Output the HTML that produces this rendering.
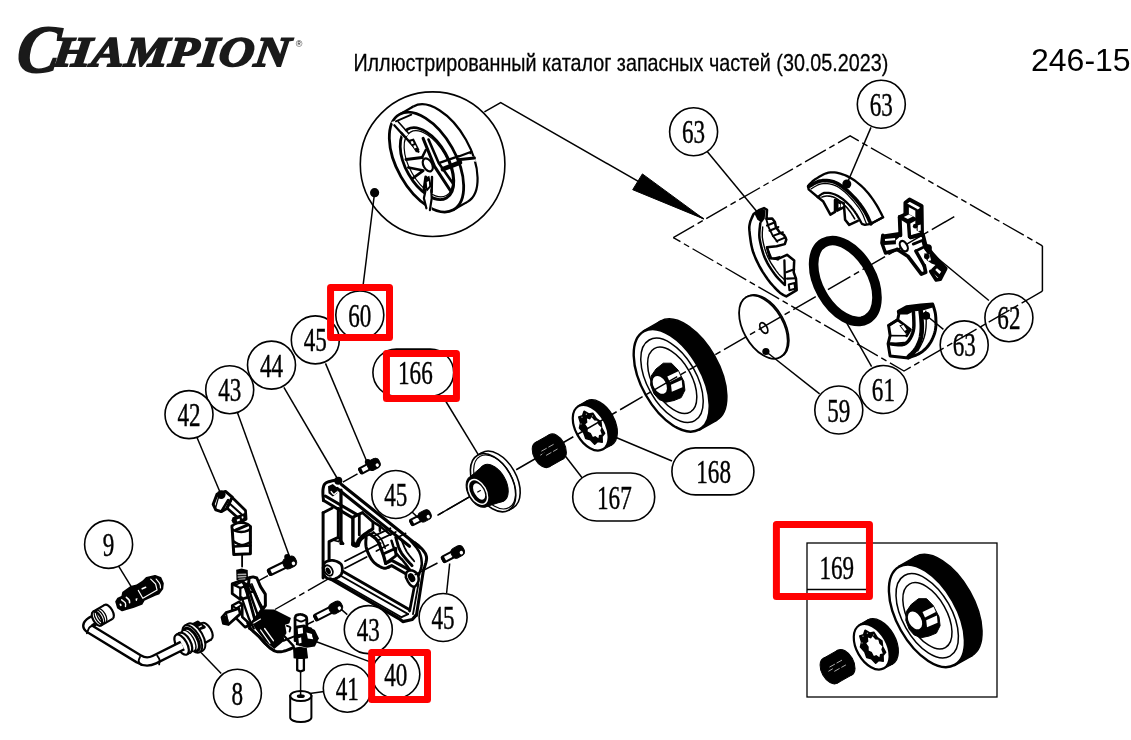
<!DOCTYPE html>
<html><head><meta charset="utf-8">
<style>
html,body{margin:0;padding:0;background:#fff;}
body{width:1131px;height:740px;overflow:hidden;position:relative;font-family:"Liberation Sans",sans-serif;}
svg{position:absolute;left:0;top:0;}
.n{font-family:"Liberation Serif",serif;font-size:28px;fill:#000;text-anchor:middle;stroke:#000;stroke-width:0.45px;}
.ln{stroke:#000;stroke-width:1.5;fill:none;}
.b{stroke:#000;stroke-width:1.6;fill:#fff;}
.r{stroke:#ff0000;stroke-width:7;fill:none;stroke-linejoin:round;}
</style></head><body>
<svg width="1131" height="740" viewBox="0 0 1131 740">
<g style="opacity:0.999"><!-- HEADER -->
<g>
<text x="0" y="0" transform="translate(15.5,72.3) scale(1.03,1.09) skewX(-6)" font-family="Liberation Serif" font-weight="bold" font-style="italic" font-size="62" fill="#1a1a1a" stroke="#1a1a1a" stroke-width="1.6">C</text>
<text x="0" y="0" transform="translate(52.0,65.8) scale(1.162,1) skewX(-6)" font-family="Liberation Serif" font-weight="bold" font-style="italic" font-size="42" fill="#1a1a1a" stroke="#1a1a1a" stroke-width="1.8" letter-spacing="0.5">HAMPION</text>
<text x="295.8" y="47.2" font-family="Liberation Sans" font-size="9" fill="#1a1a1a">®</text>
<text transform="translate(353.4,70.7) scale(0.859,1)" font-family="Liberation Sans" font-size="23" fill="#000" stroke="#000" stroke-width="0.3">Иллюстрированный каталог запасных частей (30.05.2023)</text>
<text x="1031" y="71.2" font-family="Liberation Sans" font-size="32" fill="#000">246-15</text>
</g>
<!--BODY-->
<path d="M673.3,237.6 L850.1,135.9 L1042.4,245.8" class="ln" style="stroke-dasharray:24 4 6 4;stroke-width:1.4"/>
<line x1="1042.4" y1="245.8" x2="1042.4" y2="291.2" class="ln" style=""/>
<path d="M1042.4,291.2 L904.0,371.0 L673.3,237.6" class="ln" style="stroke-dasharray:24 4 6 4;stroke-width:1.4"/>
<circle cx="432.6" cy="164.2" r="72.3" class="b" style="stroke-width:1.6"/>
<path d="M484.4,111.9 L500.7,102.6 L703.7,218.9" class="ln" style=""/>
<path d="M703.7,218.9 L642.4,173.9 L632.7,189.7 Z" class="" style="fill:#000;stroke:#000;stroke-width:1"/>
<circle cx="374.6" cy="192.7" r="4.6" fill="#000"/>
<line x1="374.6" y1="192.7" x2="362.5" y2="290" class="ln" style=""/>
<ellipse transform="translate(845.3,281.0) rotate(-29.5)" rx="26.6" ry="43.9" class="" style="fill:none;stroke:#000;stroke-width:9.6" />
<ellipse transform="translate(764.6,326.4) rotate(-29.5)" rx="20.0" ry="34.5" class="" style="fill:#fff;stroke:#000;stroke-width:1.6" />
<ellipse transform="translate(763.4,327.1) rotate(-29.5)" rx="20.0" ry="34.5" class="" style="fill:#fff;stroke:#000;stroke-width:1.8" />
<ellipse transform="translate(763.8,328.0) rotate(-29.5)" rx="3.2" ry="5.8" class="" style="fill:none;stroke:#000;stroke-width:1.8" />
<circle cx="765.9" cy="351.5" r="3.6" fill="#000"/>
<line x1="765.9" y1="351.5" x2="819.6" y2="393.8" class="ln" style=""/>
<line x1="846.8" y1="323.2" x2="871.6" y2="366.6" class="ln" style=""/>
<ellipse transform="translate(688.4,370.8) rotate(-29.5)" rx="30.2" ry="57.0" class="" style="fill:#000;stroke:#000;stroke-width:1.5" />
<path d="M699.8,429.9 L716.5,420.5 L660.3,321.2 L643.6,330.7 Z" class="" style="fill:#000;stroke:#000;stroke-width:1.5"/>
<ellipse transform="translate(671.7,380.3) rotate(-29.5)" rx="29.8" ry="56.4" class="" style="fill:#fff;stroke:#000;stroke-width:2.40" />
<ellipse transform="translate(672.0,380.3) rotate(-29.5)" rx="24.5" ry="46.3" class="" style="fill:#fff;stroke:#000;stroke-width:1.50;fill:none" />
<ellipse transform="translate(672.2,380.3) rotate(-29.5)" rx="19.3" ry="36.5" class="" style="fill:#fff;stroke:#000;stroke-width:1.50;fill:none" />
<path d="M651.2,376.0 L656.0,369.0 L663.3,363.2 L671.4,363.2 L678.0,370.0 L683.8,381.3 L684.9,390.2 L681.2,397.6 L674.0,400.5 L666.0,402.2 L659.0,399.5 L654.0,393.8 L650.6,384.9 Z" class="" style="fill:#000;stroke:#000;stroke-width:1;stroke-linejoin:round"/>
<ellipse transform="translate(659.8,384.9) rotate(-29.5)" rx="6.2" ry="9.6" class="" style="fill:#fff;stroke:none" />
<path d="M667.3,376.6 L678.3,371.2 L680.6,376.4 L669.8,382.0 Z" class="" style="fill:#fff;stroke:none"/>
<path d="M671.0,384.8 L681.7,379.9 L682.4,387.2 L671.8,391.8 Z" class="" style="fill:#fff;stroke:none"/>
<ellipse transform="translate(599.1,423.0) rotate(-29.5)" rx="15.4" ry="25.2" class="" style="fill:#000;stroke:#000;stroke-width:1.2" />
<path d="M603.1,449.6 L611.5,444.9 L586.6,401.0 L578.3,405.8 Z" class="" style="fill:#000;stroke:#000;stroke-width:1.2"/>
<ellipse transform="translate(590.7,427.7) rotate(-29.5)" rx="15.1" ry="24.8" class="" style="fill:#fff;stroke:#000;stroke-width:2.20" />
<path d="M602.2,442.1 L602.0,436.6 L604.6,433.3 L601.5,427.6 L600.9,421.8 L596.3,418.7 L592.8,413.2 L588.8,414.0 L584.1,411.3 L582.6,415.7 L578.8,417.1 L580.6,423.1 L579.5,427.9 L583.7,432.6 L585.8,438.6 L590.4,439.8 L594.7,444.2 L597.7,441.4 Z" class="" style="fill:#000;stroke:#000;stroke-width:1.6;stroke-linejoin:round"/>
<path d="M601.8,434.5 L600.3,430.5 L601.4,427.6 L598.4,424.8 L597.3,420.8 L594.4,420.4 L591.6,417.2 L590.0,419.5 L586.9,418.5 L587.4,422.4 L585.3,424.2 L587.7,427.8 L587.7,431.5 L590.8,433.1 L592.9,437.0 L595.3,435.9 L598.4,438.2 L599.0,434.9 Z" class="" style="fill:#fff;stroke:none"/>
<circle cx="592.5" cy="415.9" r="0.70" fill="#999"/>
<circle cx="586.4" cy="414.3" r="0.70" fill="#999"/>
<circle cx="582.0" cy="417.3" r="0.70" fill="#999"/>
<circle cx="581.0" cy="424.0" r="0.70" fill="#999"/>
<line x1="616.1" y1="437.5" x2="672" y2="461" class="ln" style=""/>
<ellipse transform="translate(556.3,446.8) rotate(-29.5)" rx="8.5" ry="14.0" class="" style="fill:#000;stroke:#000;stroke-width:1" />
<path d="M549.2,466.9 L563.2,459.0 L549.4,434.6 L535.4,442.5 Z" class="" style="fill:#000;stroke:#000;stroke-width:1"/>
<ellipse transform="translate(542.3,454.7) rotate(-29.5)" rx="8.5" ry="14.0" class="" style="fill:#000;stroke:#000;stroke-width:1" />
<line x1="541.4" y1="451.2" x2="546.7" y2="448.2" class="" style="stroke:#bbb;stroke-width:0.90"/>
<line x1="548.4" y1="447.2" x2="553.6" y2="444.3" class="" style="stroke:#bbb;stroke-width:0.90"/>
<line x1="546.1" y1="455.4" x2="551.4" y2="452.4" class="" style="stroke:#bbb;stroke-width:0.90"/>
<line x1="553.1" y1="451.5" x2="557.5" y2="449.0" class="" style="stroke:#bbb;stroke-width:0.90"/>
<line x1="540.3" y1="455.2" x2="544.7" y2="452.8" class="" style="stroke:#bbb;stroke-width:0.90"/>
<line x1="565.1" y1="455.7" x2="590" y2="488" class="ln" style=""/>
<line x1="954.3" y1="216.6" x2="437.4" y2="515.3" class="ln" style="stroke-dasharray:26 4 6 4;stroke-width:1.5"/>
<line x1="437.4" y1="515.3" x2="472" y2="495.3" class="ln" style="stroke-width:1.5"/>
<ellipse transform="translate(497.5,480.2) rotate(-29.5)" rx="19.0" ry="31.6" class="" style="fill:#fff;stroke:#000;stroke-width:1.6" />
<path d="M508.7,510.2 L513.0,507.7 L481.9,452.7 L477.5,455.2 Z" class="" style="fill:#fff;stroke:none"/>
<line x1="508.7" y1="510.2" x2="513.0" y2="507.7" class="" style="stroke:#000;stroke-width:1.6"/>
<line x1="477.5" y1="455.2" x2="481.9" y2="452.7" class="" style="stroke:#000;stroke-width:1.6"/>
<ellipse transform="translate(493.1,482.7) rotate(-29.5)" rx="19.0" ry="31.6" class="" style="fill:#fff;stroke:#000;stroke-width:1.6" />
<ellipse transform="translate(494.6,481.9) rotate(-29.5)" rx="17.4" ry="29.4" class="" style="fill:none;stroke:#000;stroke-width:1.1" />
<ellipse transform="translate(493.6,483.2) rotate(-29.5)" rx="12.2" ry="20.5" class="" style="fill:#000;stroke:#000" />
<path d="M486.7,506.5 L503.7,501.0 L483.5,465.4 L469.9,476.9 Z" class="" style="fill:#000;stroke:#000;stroke-width:1"/>
<ellipse transform="translate(478.3,491.7) rotate(-29.5)" rx="10.2" ry="17.0" class="" style="fill:#000;stroke:#000;stroke-width:1" />
<ellipse transform="translate(478.0,491.9) rotate(-29.5)" rx="8.0" ry="13.4" class="" style="fill:none;stroke:#fff;stroke-width:1.5" />
<ellipse transform="translate(479.1,491.5) rotate(-29.5)" rx="4.8" ry="9.0" class="" style="fill:#fff;stroke:none" />
<line x1="477.3" y1="492.3" x2="480.8" y2="490.3" class="" style="stroke:#000;stroke-width:1.2"/>
<ellipse transform="translate(943.6,606.3) rotate(-29.5)" rx="30.2" ry="57.0" class="" style="fill:#000;stroke:#000;stroke-width:1.5" />
<path d="M955.0,665.4 L971.7,656.0 L915.5,556.7 L898.8,566.2 Z" class="" style="fill:#000;stroke:#000;stroke-width:1.5"/>
<ellipse transform="translate(926.9,615.8) rotate(-29.5)" rx="29.8" ry="56.4" class="" style="fill:#fff;stroke:#000;stroke-width:2.40" />
<ellipse transform="translate(927.2,615.8) rotate(-29.5)" rx="24.5" ry="46.3" class="" style="fill:#fff;stroke:#000;stroke-width:1.50;fill:none" />
<ellipse transform="translate(927.4,615.8) rotate(-29.5)" rx="19.3" ry="36.5" class="" style="fill:#fff;stroke:#000;stroke-width:1.50;fill:none" />
<path d="M906.4,611.5 L911.2,604.5 L918.5,598.7 L926.6,598.7 L933.2,605.5 L939.0,616.8 L940.1,625.7 L936.4,633.1 L929.2,636.0 L921.2,637.7 L914.2,635.0 L909.2,629.3 L905.8,620.4 Z" class="" style="fill:#000;stroke:#000;stroke-width:1;stroke-linejoin:round"/>
<ellipse transform="translate(915.0,620.4) rotate(-29.5)" rx="6.2" ry="9.6" class="" style="fill:#fff;stroke:none" />
<path d="M922.5,612.1 L933.5,606.7 L935.8,611.9 L925.0,617.5 Z" class="" style="fill:#fff;stroke:none"/>
<path d="M926.2,620.3 L936.9,615.4 L937.6,622.7 L927.0,627.3 Z" class="" style="fill:#fff;stroke:none"/>
<ellipse transform="translate(880.1,642.0) rotate(-29.5)" rx="15.4" ry="25.2" class="" style="fill:#000;stroke:#000;stroke-width:1.2" />
<path d="M884.1,668.6 L892.5,663.9 L867.6,620.0 L859.3,624.8 Z" class="" style="fill:#000;stroke:#000;stroke-width:1.2"/>
<ellipse transform="translate(871.7,646.7) rotate(-29.5)" rx="15.1" ry="24.8" class="" style="fill:#fff;stroke:#000;stroke-width:2.20" />
<path d="M883.2,661.1 L883.0,655.6 L885.6,652.3 L882.5,646.6 L881.9,640.8 L877.3,637.7 L873.8,632.2 L869.8,633.0 L865.1,630.3 L863.6,634.7 L859.8,636.1 L861.6,642.1 L860.5,646.9 L864.7,651.6 L866.8,657.6 L871.4,658.8 L875.7,663.2 L878.7,660.4 Z" class="" style="fill:#000;stroke:#000;stroke-width:1.6;stroke-linejoin:round"/>
<path d="M882.8,653.5 L881.3,649.5 L882.4,646.6 L879.4,643.8 L878.3,639.8 L875.4,639.4 L872.6,636.2 L871.0,638.5 L867.9,637.5 L868.4,641.4 L866.3,643.2 L868.7,646.8 L868.7,650.5 L871.8,652.1 L873.9,656.0 L876.3,654.9 L879.4,657.2 L880.0,653.9 Z" class="" style="fill:#fff;stroke:none"/>
<circle cx="873.5" cy="634.9" r="0.70" fill="#999"/>
<circle cx="867.4" cy="633.3" r="0.70" fill="#999"/>
<circle cx="863.0" cy="636.3" r="0.70" fill="#999"/>
<circle cx="862.0" cy="643.0" r="0.70" fill="#999"/>
<ellipse transform="translate(844.7,662.6) rotate(-29.5)" rx="8.7" ry="14.3" class="" style="fill:#000;stroke:#000;stroke-width:1" />
<path d="M837.4,683.1 L851.7,675.0 L837.7,650.2 L823.4,658.3 Z" class="" style="fill:#000;stroke:#000;stroke-width:1"/>
<ellipse transform="translate(830.4,670.7) rotate(-29.5)" rx="8.7" ry="14.3" class="" style="fill:#000;stroke:#000;stroke-width:1" />
<line x1="829.5" y1="667.1" x2="834.9" y2="664.1" class="" style="stroke:#bbb;stroke-width:0.92"/>
<line x1="836.6" y1="663.1" x2="842.0" y2="660.1" class="" style="stroke:#bbb;stroke-width:0.92"/>
<line x1="834.3" y1="671.4" x2="839.6" y2="668.4" class="" style="stroke:#bbb;stroke-width:0.92"/>
<line x1="841.4" y1="667.4" x2="845.9" y2="664.9" class="" style="stroke:#bbb;stroke-width:0.92"/>
<line x1="828.4" y1="671.3" x2="832.8" y2="668.7" class="" style="stroke:#bbb;stroke-width:0.92"/>
<ellipse transform="translate(440.4,154.2) rotate(-29.5)" rx="29.4" ry="54.8" class="" style="fill:#fff;stroke:#000;stroke-width:2.2" />
<path d="M453.5,209.8 L467.4,201.9 L413.4,106.5 L399.5,114.4 Z" class="" style="fill:#fff;stroke:none"/>
<line x1="453.5" y1="209.8" x2="467.4" y2="201.9" class="" style="stroke:#000;stroke-width:2.2"/>
<line x1="399.5" y1="114.4" x2="413.4" y2="106.5" class="" style="stroke:#000;stroke-width:2.2"/>
<ellipse transform="translate(426.5,162.1) rotate(-29.5)" rx="29.4" ry="54.8" class="" style="fill:#fff;stroke:#000;stroke-width:2.8" />
<ellipse transform="translate(427.0,163.6) rotate(-29.5)" rx="21.2" ry="39.5" class="" style="fill:#fff;stroke:#000;stroke-width:2.8" />
<ellipse transform="translate(428.4,163.8) rotate(-29.5)" rx="18.8" ry="36.4" class="" style="fill:none;stroke:#000;stroke-width:1.2" />
<path d="M391.2,122.1 L396.7,120.6 L408.3,134.5 L403.7,138.4 Z" class="" style="fill:#fff;stroke:none"/>
<path d="M394.3,125.2 L404.9,136.9" class="" style="fill:none;stroke:#000;stroke-width:2.2;stroke-linecap:round;stroke-linejoin:round"/>
<path d="M398.2,121.8 L408.3,133.0" class="" style="fill:none;stroke:#000;stroke-width:1.6;stroke-linecap:round;stroke-linejoin:round"/>
<path d="M395.9,121.3 L411.4,114.6" class="" style="fill:none;stroke:#000;stroke-width:1.8;stroke-linecap:round;stroke-linejoin:round"/>
<path d="M458.1,154.5 L475.2,157.1 L476.0,161.8 L459.3,159.7 Z" class="" style="fill:#fff;stroke:none"/>
<path d="M459.3,156.3 L471.3,151.7" class="" style="fill:none;stroke:#000;stroke-width:2.2;stroke-linecap:round;stroke-linejoin:round"/>
<path d="M458.1,159.7 L474.4,157.9" class="" style="fill:none;stroke:#000;stroke-width:3.0;stroke-linecap:round;stroke-linejoin:round"/>
<path d="M471.3,151.7 L470.2,153.5" class="" style="fill:none;stroke:#000;stroke-width:1.6;stroke-linecap:round;stroke-linejoin:round"/>
<path d="M424.8,189.8 L431.7,189.0 L431.7,211.4 L425.7,210.1 Z" class="" style="fill:#fff;stroke:none"/>
<path d="M425.7,189.8 L423.9,198.3 L426.4,208.3" class="" style="fill:none;stroke:#000;stroke-width:2.2;stroke-linecap:round;stroke-linejoin:round"/>
<path d="M431.3,190.2 L431.7,198.3 L429.9,210.1" class="" style="fill:none;stroke:#000;stroke-width:2.2;stroke-linecap:round;stroke-linejoin:round"/>
<path d="M423.1,138.4 L434.5,166.4 L450.3,190.5" class="" style="fill:none;stroke:#000;stroke-width:3.0;stroke-linecap:round;stroke-linejoin:round"/>
<path d="M428.5,139.5 L438.7,162.9 L453.7,184.6" class="" style="fill:none;stroke:#000;stroke-width:2.6;stroke-linecap:round;stroke-linejoin:round"/>
<path d="M406.0,159.4 L422.0,157.6" class="" style="fill:none;stroke:#000;stroke-width:3.0;stroke-linecap:round;stroke-linejoin:round"/>
<path d="M408.3,167.5 L423.3,170.6 L413.0,178.1" class="" style="fill:none;stroke:#000;stroke-width:2.6;stroke-linecap:round;stroke-linejoin:round"/>
<path d="M422.0,157.6 L425.7,150.1" class="" style="fill:none;stroke:#000;stroke-width:2.4;stroke-linecap:round;stroke-linejoin:round"/>
<path d="M439.4,162.9 L458.1,156.3" class="" style="fill:none;stroke:#000;stroke-width:2.4;stroke-linecap:round;stroke-linejoin:round"/>
<path d="M442.9,169.1 L460.0,162.5" class="" style="fill:none;stroke:#000;stroke-width:4.6;stroke-linecap:round;stroke-linejoin:round"/>
<path d="M425.7,176.9 L423.9,189.8" class="" style="fill:none;stroke:#000;stroke-width:2.8;stroke-linecap:round;stroke-linejoin:round"/>
<path d="M432.0,176.9 L431.7,192.1" class="" style="fill:none;stroke:#000;stroke-width:2.4;stroke-linecap:round;stroke-linejoin:round"/>
<path d="M418.4,151.7 L401.3,132.7" class="" style="fill:none;stroke:#000;stroke-width:2.4;stroke-linecap:round;stroke-linejoin:round"/>
<path d="M408.3,140.0 L413.8,138.4 L419.5,150.1 L416.1,152.4 Z" class="" style="fill:#000;stroke:none"/>
<path d="M410.7,141.5 L412.7,141.1 L413.9,143.6 L411.7,144.2 Z" class="" style="fill:#fff;stroke:none"/>
<path d="M413.3,145.7 L415.3,145.1 L416.7,147.8 L414.5,148.5 Z" class="" style="fill:#fff;stroke:none"/>
<path d="M424.7,178.1 L429.3,175.8 L431.7,185.9 L427.3,191.3 L424.7,187.4 Z" class="" style="fill:#000;stroke:none"/>
<path d="M426.7,182.0 L428.9,180.9 L429.2,185.9 L427.3,188.2 Z" class="" style="fill:#fff;stroke:none"/>
<ellipse transform="translate(427.8,164.9) rotate(-29.5)" rx="4.3" ry="7.0" class="" style="fill:#fff;stroke:#000;stroke-width:2.2" />
<path d="M753.6,214.0 L753.1,215.0 L752.5,216.4 L751.7,218.1 L751.0,219.9 L750.3,221.6 L749.9,223.3 L749.6,224.7 L749.4,225.9 L749.3,227.2 L749.3,228.6 L749.4,230.2 L749.6,232.2 L749.8,234.6 L750.2,237.5 L750.6,240.6 L751.1,243.9 L751.8,247.0 L752.5,250.0 L753.4,252.8 L754.5,255.6 L755.6,258.4 L756.9,261.1 L758.2,263.8 L759.5,266.4 L761.0,269.0 L762.5,271.6 L764.2,274.1 L765.8,276.6 L767.5,279.0 L769.2,281.2 L770.9,283.4 L772.8,285.5 L774.6,287.5 L776.4,289.3 L778.1,291.0 L779.6,292.4 L781.0,293.5 L782.4,294.4 L783.6,295.1 L784.7,295.6 L785.6,296.1 L786.3,296.4 L796.7,290.2 L796.0,278.6 L793.7,272.3 L794.2,260.4 L787.0,254.8 L778.1,258.9 L769.9,258.2 L767.0,247.3 L776.6,246.3 L784.8,244.1 L786.3,239.6 L784.1,235.1 L779.6,232.2 L775.9,227.0 L774.9,222.1 L772.2,218.5 L766.5,218.8 L767.0,209.9 L764.0,208.1 L759.5,209.9 Z" class="" style="fill:#fff;stroke:#000;stroke-width:2.53;stroke-linecap:round;stroke-linejoin:round"/>
<path d="M760.3,223.3 L760.1,224.8 L759.9,226.9 L759.6,229.5 L759.4,232.3 L759.3,235.2 L759.5,238.1 L760.0,241.1 L760.7,244.3 L761.5,247.7 L762.5,251.1 L763.5,254.4 L764.7,257.5 L766.1,260.4 L767.6,263.3 L769.2,266.1 L771.0,268.9 L772.7,271.4 L774.4,273.8 L776.2,276.1 L778.2,278.3 L780.2,280.4 L782.1,282.3 L783.7,283.8 L784.8,285.0" class="" style="fill:none;stroke:#000;stroke-width:2.53;stroke-linecap:round;stroke-linejoin:round"/>
<path d="M762.7,227.0 L762.6,228.3 L762.5,230.1 L762.3,232.2 L762.3,234.5 L762.3,237.1 L762.7,239.6 L763.2,242.3 L763.9,245.3 L764.7,248.4 L765.7,251.5 L766.8,254.6 L768.0,257.5 L769.4,260.2 L770.9,262.9 L772.6,265.5 L774.3,268.0 L775.9,270.3 L777.4,272.3 L778.8,274.1 L780.3,275.7 L781.7,277.1 L783.0,278.3 L784.0,279.3 L784.8,280.1" class="" style="fill:none;stroke:#000;stroke-width:1.38;stroke-linecap:round;stroke-linejoin:round"/>
<path d="M754.3,213.6 L762.5,209.1 L765.5,210.6 L764.7,218.8 L761.5,223.0 L757.3,219.5 Z" class="" style="fill:#000;stroke:none"/>
<path d="M767.0,225.5 L774.4,222.5" class="" style="fill:none;stroke:#000;stroke-width:2.07;stroke-linecap:round;stroke-linejoin:round"/>
<path d="M769.5,230.7 L778.4,227.0" class="" style="fill:none;stroke:#000;stroke-width:2.07;stroke-linecap:round;stroke-linejoin:round"/>
<path d="M772.9,235.9 L782.9,232.2" class="" style="fill:none;stroke:#000;stroke-width:2.07;stroke-linecap:round;stroke-linejoin:round"/>
<path d="M776.6,241.1 L785.6,237.4" class="" style="fill:none;stroke:#000;stroke-width:2.07;stroke-linecap:round;stroke-linejoin:round"/>
<path d="M766.2,218.8 L768.5,227.0 L772.9,235.9 L777.4,241.8" class="" style="fill:none;stroke:#000;stroke-width:1.84;stroke-linecap:round;stroke-linejoin:round"/>
<path d="M784.4,260.4 L785.0,284.2" class="" style="fill:none;stroke:#000;stroke-width:2.3;stroke-linecap:round;stroke-linejoin:round"/>
<path d="M786.3,272.3 L794.2,269.3" class="" style="fill:none;stroke:#000;stroke-width:2.07;stroke-linecap:round;stroke-linejoin:round"/>
<path d="M787.0,278.6 L796.0,278.3" class="" style="fill:none;stroke:#000;stroke-width:2.07;stroke-linecap:round;stroke-linejoin:round"/>
<path d="M788.8,284.5 L794.5,283.0 L795.2,288.7 L789.4,290.2 Z" class="" style="fill:none;stroke:#000;stroke-width:2.07;stroke-linecap:round;stroke-linejoin:round"/>
<path d="M770.7,258.2 L780.4,255.7 L778.4,260.7 Z" class="" style="fill:#000;stroke:none"/>
<path d="M767.0,247.3 L771.4,258.2" class="" style="fill:none;stroke:#000;stroke-width:1.84;stroke-linecap:round;stroke-linejoin:round"/>
<path d="M808.1,185.8 L808.8,185.1 L809.7,184.1 L810.8,183.0 L812.1,181.7 L813.6,180.4 L815.2,179.3 L817.1,178.1 L819.2,176.8 L821.5,175.5 L823.8,174.3 L826.2,173.3 L828.4,172.7 L830.5,172.3 L832.5,172.3 L834.5,172.4 L836.5,172.7 L838.5,173.2 L840.5,173.7 L842.6,174.3 L844.6,175.0 L846.6,175.9 L848.6,176.9 L850.7,178.0 L852.7,179.3 L854.8,180.6 L856.8,182.2 L858.9,183.8 L861.0,185.6 L863.0,187.5 L864.9,189.4 L866.7,191.4 L868.5,193.5 L870.2,195.7 L871.8,197.9 L873.4,200.2 L875.0,202.6 L876.6,205.1 L878.2,207.9 L879.7,210.7 L881.1,213.4 L882.2,215.6 L883.1,217.3 L870.9,223.8 L864.9,224.9 L861.8,223.8 L861.3,222.8 L860.5,221.4 L859.7,219.8 L858.7,218.0 L857.7,216.3 L856.8,214.7 L855.8,213.3 L854.9,211.9 L853.9,210.6 L852.9,209.2 L851.8,207.9 L850.7,206.6 L849.5,205.3 L848.2,204.0 L846.8,202.6 L845.4,201.3 L844.0,200.1 L842.6,199.0 L841.1,198.0 L839.6,197.0 L838.1,196.1 L836.5,195.2 L835.0,194.5 L833.4,194.0 L831.9,193.5 L830.3,193.1 L828.7,192.9 L827.2,192.8 L825.7,192.8 L824.3,192.9 L823.0,193.4 L821.7,194.1 L820.5,194.9 L819.3,195.8 L818.4,196.5 L817.7,197.0 L808.6,189.4 Z" class="" style="fill:#fff;stroke:#000;stroke-width:2.3;stroke-linecap:round;stroke-linejoin:round"/>
<path d="M808.6,186.6 L809.9,185.9 L811.6,184.9 L813.6,183.7 L815.8,182.6 L818.1,181.6 L820.3,181.0 L822.4,180.7 L824.6,180.5 L826.8,180.6 L829.1,180.8 L831.3,181.2 L833.4,181.8 L835.5,182.6 L837.6,183.7 L839.7,184.9 L841.7,186.3 L843.6,187.8 L845.6,189.4 L847.6,191.0 L849.5,192.8 L851.4,194.7 L853.3,196.7 L855.1,198.6 L856.8,200.5 L858.3,202.4 L859.8,204.2 L861.1,206.0 L862.4,207.9 L863.7,209.8 L864.9,211.7 L866.1,213.8 L867.3,216.1 L868.4,218.5 L869.4,220.7 L870.3,222.5 L870.9,223.8" class="" style="fill:none;stroke:#000;stroke-width:3.68;stroke-linecap:round;stroke-linejoin:round"/>
<path d="M811.1,188.9 L812.2,188.3 L813.7,187.3 L815.5,186.3 L817.4,185.2 L819.4,184.4 L821.3,183.8 L823.2,183.6 L825.2,183.5 L827.3,183.6 L829.4,183.9 L831.5,184.3 L833.4,184.8 L835.3,185.6 L837.1,186.4 L838.9,187.5 L840.6,188.7 L842.3,190.0 L844.1,191.4 L845.9,193.0 L847.8,194.8 L849.6,196.8 L851.4,198.8 L853.2,200.7 L854.7,202.6 L856.1,204.3 L857.4,206.0 L858.7,207.6 L859.8,209.3 L860.8,211.0 L861.8,212.7 L862.8,214.6 L863.7,216.8 L864.5,218.9 L865.3,220.9 L865.9,222.6 L866.4,223.8" class="" style="fill:none;stroke:#000;stroke-width:1.26;stroke-linecap:round;stroke-linejoin:round"/>
<path d="M819.3,198.3 L820.0,198.0 L821.1,197.6 L822.3,197.0 L823.6,196.6 L825.0,196.2 L826.4,196.0 L827.7,196.0 L829.0,196.1 L830.4,196.3 L831.8,196.6 L833.2,197.0 L834.5,197.5 L835.7,198.1 L836.9,198.9 L838.1,199.7 L839.2,200.6 L840.4,201.6 L841.6,202.6 L842.7,203.6 L844.0,204.7 L845.2,205.9 L846.4,207.1 L847.5,208.3 L848.6,209.7 L849.8,211.2 L851.0,212.9 L852.1,214.7 L853.2,216.3 L854.1,217.8 L854.7,218.8" class="" style="fill:none;stroke:#000;stroke-width:1.61;stroke-linecap:round;stroke-linejoin:round"/>
<path d="M817.7,197.0 L823.3,201.6 L830.4,214.7 L835.0,211.9 L835.0,200.0" class="" style="fill:#fff;stroke:#000;stroke-width:2.53;stroke-linecap:round;stroke-linejoin:round"/>
<path d="M837.2,200.0 L837.2,210.7 L844.1,207.1 L845.1,219.8 L849.2,224.9 L857.8,220.8" class="" style="fill:none;stroke:#000;stroke-width:2.53;stroke-linecap:round;stroke-linejoin:round"/>
<path d="M837.2,200.0 L844.1,203.1 L844.1,207.1" class="" style="fill:none;stroke:#000;stroke-width:1.84;stroke-linecap:round;stroke-linejoin:round"/>
<path d="M837.7,201.0 L841.0,202.6 L841.0,207.6 L837.7,209.7 Z" class="" style="fill:#000;stroke:none"/>
<path d="M838.5,203.6 L840.3,204.6 L840.3,206.8 L838.5,207.8 Z" class="" style="fill:#fff;stroke:none"/>
<path d="M870.9,223.8 L883.1,217.3" class="" style="fill:none;stroke:#000;stroke-width:2.3;stroke-linecap:round;stroke-linejoin:round"/>
<circle cx="846.8" cy="184.0" r="4.5" fill="#000"/>
<path d="M905.4,215.0 L905.4,202.8 L909.5,199.5 L921.6,205.9 L922.0,233.9 L910.5,237.3" class="" style="fill:#fff;stroke:#000;stroke-width:3.91;stroke-linecap:round;stroke-linejoin:round"/>
<path d="M907.6,214.3 L907.6,205.1 L916.6,210.0 L916.6,224.5" class="" style="fill:none;stroke:#000;stroke-width:2.53;stroke-linecap:round;stroke-linejoin:round"/>
<path d="M916.6,210.3 L921.6,206.9 L922.0,233.2 L916.6,230.5 Z" class="" style="fill:#000;stroke:none"/>
<path d="M917.6,225.4 L920.7,224.5 L920.8,230.5 L917.7,231.2 Z" class="" style="fill:#fff;stroke:none"/>
<path d="M899.7,217.0 L905.4,214.3 L914.6,219.1 L908.5,222.4 Z" class="" style="fill:#000;stroke:#000;stroke-width:3.68;stroke-linecap:round;stroke-linejoin:round"/>
<path d="M903.8,217.0 L908.9,214.6 L913.0,216.5 L907.8,218.9 Z" class="" style="fill:#fff;stroke:none"/>
<path d="M899.7,217.0 L900.4,235.3" class="" style="fill:none;stroke:#000;stroke-width:3.91;stroke-linecap:round;stroke-linejoin:round"/>
<path d="M908.5,222.4 L909.5,236.6" class="" style="fill:none;stroke:#000;stroke-width:3.45;stroke-linecap:round;stroke-linejoin:round"/>
<path d="M882.8,234.6 L899.1,231.9 L900.8,235.9 L895.9,240.3 L895.9,244.3 L884.2,244.9 L882.2,242.2 Z" class="" style="fill:#000;stroke:none"/>
<path d="M884.9,238.9 L895.1,238.1 L895.1,240.3 L885.1,241.1 Z" class="" style="fill:#fff;stroke:none"/>
<path d="M882.8,235.3 L881.9,243.0 L885.5,253.0 L897.3,249.5" class="" style="fill:none;stroke:#000;stroke-width:3.45;stroke-linecap:round;stroke-linejoin:round"/>
<path d="M897.3,249.5 L907.8,256.2 L921.4,274.1 L925.7,272.4 L924.3,265.7" class="" style="fill:none;stroke:#000;stroke-width:3.68;stroke-linecap:round;stroke-linejoin:round"/>
<path d="M910.5,237.3 L923.0,234.6 L925.4,244.3 L932.2,253.5 L945.7,268.6 L940.3,279.2 L936.2,279.9 L930.8,271.4" class="" style="fill:none;stroke:#000;stroke-width:3.68;stroke-linecap:round;stroke-linejoin:round"/>
<path d="M913.2,244.1 L922.7,240.3 L924.3,246.8 L915.9,251.1" class="" style="fill:none;stroke:#000;stroke-width:2.76;stroke-linecap:round;stroke-linejoin:round"/>
<path d="M915.9,251.1 L924.1,265.7" class="" style="fill:none;stroke:#000;stroke-width:3.45;stroke-linecap:round;stroke-linejoin:round"/>
<path d="M924.3,246.8 L931.5,257.6" class="" style="fill:none;stroke:#000;stroke-width:2.76;stroke-linecap:round;stroke-linejoin:round"/>
<path d="M932.8,270.0 L936.9,265.9 L943.6,271.4 L939.6,276.8 Z" class="" style="fill:#fff;stroke:#000;stroke-width:3.45;stroke-linecap:round;stroke-linejoin:round"/>
<path d="M924.1,253.5 L932.2,253.5 L945.7,268.6 L943.0,273.1 L937.6,265.7 L931.5,263.6 L926.8,260.3 Z" class="" style="fill:#000;stroke:none"/>
<path d="M926.8,255.1 L929.5,254.3 L931.1,260.3 L928.1,260.9 Z" class="" style="fill:#fff;stroke:none"/>
<circle cx="915.3" cy="226.2" r="2.4" fill="#000"/>
<circle cx="928.1" cy="248.1" r="3.8" fill="#000"/>
<circle cx="926.8" cy="256.5" r="2.8" fill="#000"/>
<ellipse transform="translate(903.8,246.1) rotate(-29.5)" rx="3.4" ry="5.6" class="" style="fill:#fff;stroke:#000;stroke-width:2.2" />
<path d="M898.3,311.2 L906.4,306.7 L920.6,305.1 L932.7,304.1 L932.7,304.1 L933.1,305.3 L933.6,306.9 L934.2,308.8 L934.8,310.9 L935.3,313.1 L935.6,315.3 L935.8,317.6 L935.9,320.1 L936.0,322.8 L935.9,325.4 L935.7,328.0 L935.3,330.5 L934.7,332.9 L933.9,335.2 L933.0,337.5 L932.0,339.7 L930.9,341.7 L929.7,343.7 L928.4,345.5 L927.0,347.2 L925.5,348.8 L924.0,350.2 L922.3,351.6 L920.6,352.8 L918.6,353.9 L916.3,355.0 L913.9,355.9 L911.7,356.7 L909.8,357.4 L908.4,357.9 L890.1,355.9 L888.1,343.7 L890.1,335.6 L888.6,325.4 L897.7,319.8 L898.8,314.3 Z" class="" style="fill:#fff;stroke:#000;stroke-width:2.99;stroke-linecap:round;stroke-linejoin:round"/>
<path d="M898.3,311.2 L906.4,306.7 L920.6,305.1 L932.7,304.1 L932.7,307.4 L923.6,310.2 L913.5,311.4 L907.4,314.5 L899.3,314.5 Z" class="" style="fill:#000;stroke:none"/>
<path d="M920.6,310.2 L920.7,311.9 L921.0,314.2 L921.3,317.0 L921.5,319.9 L921.7,322.8 L921.8,325.4 L921.8,327.8 L921.7,330.0 L921.6,332.3 L921.3,334.4 L921.0,336.6 L920.6,338.6 L920.0,340.6 L919.2,342.6 L918.4,344.6 L917.5,346.4 L916.5,348.2 L915.5,349.8 L914.3,351.3 L913.0,352.8 L911.6,354.1 L910.3,355.3 L909.2,356.3 L908.4,357.1" class="" style="fill:none;stroke:#000;stroke-width:4.6;stroke-linecap:round;stroke-linejoin:round"/>
<path d="M913.5,312.2 L913.5,314.1 L913.7,316.6 L913.8,319.7 L913.9,322.8 L913.9,325.9 L913.7,328.5 L913.3,330.7 L912.7,332.8 L912.0,334.7 L911.2,336.5 L910.3,338.2 L909.4,339.6 L908.5,340.9 L907.4,342.0 L906.4,342.9 L905.2,343.7 L903.8,344.3 L902.3,344.7 L900.4,344.9 L898.2,344.8 L895.8,344.6 L893.5,344.3 L891.5,344.0 L890.1,343.9" class="" style="fill:none;stroke:#000;stroke-width:3.45;stroke-linecap:round;stroke-linejoin:round"/>
<path d="M925.8,311.2 L925.9,312.8 L926.0,314.9 L926.1,317.5 L926.2,320.2 L926.2,323.0 L926.1,325.4 L926.0,327.7 L925.7,329.9 L925.4,332.1 L925.0,334.3 L924.4,336.5 L923.8,338.6 L922.9,340.9 L921.8,343.3 L920.6,345.6 L919.4,347.8 L918.4,349.6 L917.7,351.0" class="" style="fill:none;stroke:#000;stroke-width:1.38;stroke-linecap:round;stroke-linejoin:round"/>
<path d="M888.6,325.4 L897.7,319.8 L910.4,329.5 L906.6,335.8" class="" style="fill:none;stroke:#000;stroke-width:2.76;stroke-linecap:round;stroke-linejoin:round"/>
<path d="M899.3,325.4 L904.3,323.9 L909.6,330.5 L906.0,334.1 Z" class="" style="fill:#000;stroke:none"/>
<path d="M900.8,325.9 L903.5,325.1 L906.6,329.5 L904.8,331.0 Z" class="" style="fill:#fff;stroke:none"/>
<path d="M890.1,335.6 L906.6,335.8" class="" style="fill:none;stroke:#000;stroke-width:1.61;stroke-linecap:round;stroke-linejoin:round"/>
<path d="M890.1,343.9 L904.3,342.7" class="" style="fill:none;stroke:#000;stroke-width:1.84;stroke-linecap:round;stroke-linejoin:round"/>
<circle cx="926.1" cy="315.8" r="4.0" fill="#000"/>
<line x1="943.4" y1="329.4" x2="927" y2="316" class="ln" style=""/>
<path d="M323.4,500.8 L323.4,499.5 L323.2,497.7 L323.0,495.5 L322.9,493.3 L322.9,491.2 L323.0,489.5 L323.2,488.1 L323.5,486.8 L323.8,485.7 L324.3,484.7 L324.9,483.8 L325.8,483.0 L327.1,482.3 L328.7,481.7 L330.6,481.2 L332.4,480.8 L333.9,480.5 L335.0,480.3" class="" style="fill:none;stroke:#000;stroke-width:2.99;stroke-linecap:round;stroke-linejoin:round"/>
<path d="M323.1,512.7 L323.1,578.1" class="" style="fill:none;stroke:#000;stroke-width:2.99;stroke-linecap:round;stroke-linejoin:round"/>
<path d="M328.0,486.2 L332.8,484.1 L337.2,487.8 L337.2,493.3 L332.8,496.5 L328.5,493.3 Z" class="" style="fill:#000;stroke:none"/>
<path d="M331.2,491.6 L331.5,492.0 L331.9,492.5 L332.4,493.1 L332.9,493.7 L333.4,494.1 L333.9,494.3 L334.4,494.2 L334.9,493.9 L335.4,493.4 L335.9,492.9 L336.3,492.5 L336.6,492.2" class="" style="fill:none;stroke:#fff;stroke-width:1.38;stroke-linecap:round;stroke-linejoin:round"/>
<path d="M325.3,496.0 L357.4,514.9 L362.6,512.7" class="" style="fill:none;stroke:#000;stroke-width:2.99;stroke-linecap:round;stroke-linejoin:round"/>
<path d="M323.7,500.5 L352.3,517.6 L357.4,514.9" class="" style="fill:none;stroke:#000;stroke-width:2.99;stroke-linecap:round;stroke-linejoin:round"/>
<path d="M323.1,512.7 L332.3,508.1" class="" style="fill:none;stroke:#000;stroke-width:2.76;stroke-linecap:round;stroke-linejoin:round"/>
<path d="M341.5,484.6 L419.8,547.2" class="" style="fill:none;stroke:#000;stroke-width:3.22;stroke-linecap:round;stroke-linejoin:round"/>
<path d="M337.2,488.4 L409.5,546.2" class="" style="fill:none;stroke:#000;stroke-width:3.22;stroke-linecap:round;stroke-linejoin:round"/>
<path d="M341.0,490.0 L341.0,543.5" class="" style="fill:none;stroke:#000;stroke-width:3.22;stroke-linecap:round;stroke-linejoin:round"/>
<path d="M338.3,508.4 L338.3,537.3 L329.1,541.6 L329.1,578.1" class="" style="fill:none;stroke:#000;stroke-width:2.99;stroke-linecap:round;stroke-linejoin:round"/>
<path d="M338.3,537.3 L343.3,543.8 L341.0,543.5" class="" style="fill:none;stroke:#000;stroke-width:2.3;stroke-linecap:round;stroke-linejoin:round"/>
<path d="M334.5,540.5 L338.3,541.6 L340.7,539.4" class="" style="fill:none;stroke:#000;stroke-width:1.61;stroke-linecap:round;stroke-linejoin:round"/>
<path d="M352.9,517.6 L352.9,544.6" class="" style="fill:none;stroke:#000;stroke-width:3.45;stroke-linecap:round;stroke-linejoin:round"/>
<path d="M359.3,515.4 L359.3,534.9" class="" style="fill:none;stroke:#000;stroke-width:2.76;stroke-linecap:round;stroke-linejoin:round"/>
<path d="M362.6,512.7 L372.9,521.9 L372.9,528.9" class="" style="fill:none;stroke:#000;stroke-width:2.76;stroke-linecap:round;stroke-linejoin:round"/>
<path d="M372.9,521.9 L379.9,526.2 L379.9,530.8" class="" style="fill:none;stroke:#000;stroke-width:2.53;stroke-linecap:round;stroke-linejoin:round"/>
<path d="M379.9,526.2 L390.7,534.9" class="" style="fill:none;stroke:#000;stroke-width:2.3;stroke-linecap:round;stroke-linejoin:round"/>
<path d="M352.9,544.6 L353.3,544.8 L353.9,545.2 L354.6,545.6 L355.4,545.9 L356.1,546.1 L356.6,545.9 L357.0,545.4 L357.3,544.5 L357.5,543.5 L357.7,542.4 L358.0,541.3 L358.5,540.3 L359.1,539.4 L359.9,538.5 L360.8,537.6 L361.7,536.7 L362.8,535.8 L363.9,534.9 L365.2,533.9 L366.8,532.8 L368.5,531.6 L370.2,530.6 L371.6,529.7 L372.5,529.0" class="" style="fill:none;stroke:#000;stroke-width:3.45;stroke-linecap:round;stroke-linejoin:round"/>
<path d="M358.5,545.9 L358.7,545.3 L358.9,544.5 L359.2,543.5 L359.6,542.4 L360.1,541.4 L360.6,540.5 L361.3,539.7 L362.1,539.0 L363.0,538.2 L364.0,537.5 L365.0,536.8 L366.0,536.2 L367.3,535.5 L368.7,534.8 L370.2,534.2 L371.6,533.6 L372.8,533.1 L373.6,532.7" class="" style="fill:none;stroke:#000;stroke-width:2.3;stroke-linecap:round;stroke-linejoin:round"/>
<path d="M351.2,542.5 L355.2,541.4 L357.4,545.7 L352.9,547.0 Z" class="" style="fill:#000;stroke:none"/>
<path d="M366.1,537.4 L366.1,538.6 L365.9,540.2 L365.8,542.0 L365.8,544.1 L366.0,546.2 L366.4,548.3 L367.1,550.4 L368.0,552.7 L369.1,555.0 L370.3,557.3 L371.5,559.4 L372.9,561.2 L374.4,562.8 L376.1,564.2 L377.9,565.4 L379.7,566.5 L381.4,567.3 L382.9,567.9 L384.1,568.2 L385.3,568.2 L386.3,568.0 L387.2,567.7 L387.9,567.4 L388.5,567.2" class="" style="fill:none;stroke:#000;stroke-width:2.99;stroke-linecap:round;stroke-linejoin:round"/>
<path d="M370.1,534.4 L370.9,535.0 L372.1,535.8 L373.4,536.7 L374.9,537.9 L376.2,539.2 L377.4,540.7 L378.5,542.5 L379.5,544.6 L380.4,547.0 L381.3,549.3 L382.1,551.6 L382.9,553.7 L383.5,555.6 L384.1,557.5 L384.6,559.3 L385.0,561.0 L385.4,562.4 L385.7,563.4" class="" style="fill:none;stroke:#000;stroke-width:3.22;stroke-linecap:round;stroke-linejoin:round"/>
<path d="M373.3,532.0 L374.2,532.7 L375.3,533.6 L376.7,534.7 L378.2,535.9 L379.5,537.2 L380.7,538.5 L381.7,540.1 L382.6,541.9 L383.4,543.8 L384.2,545.6 L384.8,547.2 L385.2,548.3" class="" style="fill:none;stroke:#000;stroke-width:1.61;stroke-linecap:round;stroke-linejoin:round"/>
<path d="M377.4,540.7 L395.8,532.0" class="" style="fill:none;stroke:#000;stroke-width:1.84;stroke-linecap:round;stroke-linejoin:round"/>
<path d="M373.1,536.4 L390.4,528.3" class="" style="fill:none;stroke:#000;stroke-width:1.84;stroke-linecap:round;stroke-linejoin:round"/>
<path d="M383.1,553.9 L395.8,548.3 L395.8,555.8 L385.7,563.4" class="" style="fill:none;stroke:#000;stroke-width:2.76;stroke-linecap:round;stroke-linejoin:round"/>
<path d="M385.7,563.4 L391.7,560.4 L409.9,570.1" class="" style="fill:none;stroke:#000;stroke-width:3.22;stroke-linecap:round;stroke-linejoin:round"/>
<path d="M388.5,567.2 L391.7,565.6 L406.6,574.2" class="" style="fill:none;stroke:#000;stroke-width:2.99;stroke-linecap:round;stroke-linejoin:round"/>
<path d="M395.8,537.4 L396.2,538.7 L396.6,540.4 L397.2,542.4 L397.8,544.5 L398.4,546.5 L399.1,548.3 L399.7,549.7 L400.3,550.9 L400.9,552.1 L401.6,553.3 L402.4,554.5 L403.4,555.8 L404.7,557.4 L406.3,559.3 L408.0,561.2 L409.6,563.0 L411.1,564.5 L412.0,565.6" class="" style="fill:none;stroke:#000;stroke-width:2.99;stroke-linecap:round;stroke-linejoin:round"/>
<path d="M391.5,540.7 L391.9,542.0 L392.5,543.9 L393.2,546.1 L394.0,548.4 L394.9,550.7 L395.8,552.6 L396.9,554.2 L398.2,555.7 L399.5,557.1 L400.8,558.5 L402.2,559.8 L403.4,561.2 L404.6,562.8 L405.9,564.4 L407.1,566.1 L408.2,567.6 L409.2,568.9 L409.9,569.9" class="" style="fill:none;stroke:#000;stroke-width:2.53;stroke-linecap:round;stroke-linejoin:round"/>
<path d="M401.2,539.6 L401.8,540.9 L402.6,542.8 L403.5,544.9 L404.5,547.3 L405.6,549.5 L406.6,551.5 L407.9,553.4 L409.3,555.3 L410.8,557.1 L412.2,558.8 L413.4,560.2 L414.2,561.2" class="" style="fill:none;stroke:#000;stroke-width:1.84;stroke-linecap:round;stroke-linejoin:round"/>
<path d="M345.0,561.2 L380.7,543.1" class="" style="fill:none;stroke:#000;stroke-width:1.72;stroke-linecap:round;stroke-linejoin:round"/>
<path d="M345.0,568.3 L366.6,556.9" class="" style="fill:none;stroke:#000;stroke-width:1.72;stroke-linecap:round;stroke-linejoin:round"/>
<path d="M376.4,551.0 L388.3,544.8" class="" style="fill:none;stroke:#000;stroke-width:1.72;stroke-linecap:round;stroke-linejoin:round"/>
<path d="M395.8,538.5 L405.6,533.3" class="" style="fill:none;stroke:#000;stroke-width:1.72;stroke-linecap:round;stroke-linejoin:round"/>
<path d="M323.1,567.8 L323.3,567.2 L323.4,566.3 L323.7,565.3 L324.0,564.2 L324.5,563.2 L325.1,562.4 L326.1,561.8 L327.2,561.3 L328.5,560.9 L329.8,560.6 L331.2,560.4 L332.6,560.4 L334.0,560.6 L335.5,561.0 L337.0,561.5 L338.4,562.2 L339.7,563.0 L340.7,563.8 L341.4,564.7 L341.8,565.8 L342.1,567.0 L342.3,568.3 L342.3,569.5 L342.3,570.5 L342.2,571.5 L342.0,572.5 L341.7,573.5 L341.3,574.3 L340.7,575.2 L340.0,575.9 L339.1,576.7 L337.9,577.4 L336.6,578.1 L335.2,578.7 L333.9,579.1 L332.6,579.3 L331.3,579.3 L329.9,579.1 L328.5,578.7 L327.2,578.2 L326.1,577.5 L325.1,576.6 L324.5,575.4 L324.0,573.8 L323.7,572.1 L323.4,570.3 L323.3,568.9 L323.1,567.8" class="" style="fill:#fff;stroke:#000;stroke-width:2.76;stroke-linecap:round;stroke-linejoin:round"/>
<ellipse transform="translate(328.5,570.5) rotate(-29.5)" rx="3.8" ry="5.6" class="" style="fill:#fff;stroke:#000;stroke-width:1.8" />
<ellipse transform="translate(328.2,570.8) rotate(-29.5)" rx="2.2" ry="3.6" class="" style="fill:#000;stroke:none" />
<path d="M342.7,571.2 L409.6,609.7" class="" style="fill:none;stroke:#000;stroke-width:2.99;stroke-linecap:round;stroke-linejoin:round"/>
<path d="M340.7,575.7 L408.2,614.1" class="" style="fill:none;stroke:#000;stroke-width:1.84;stroke-linecap:round;stroke-linejoin:round"/>
<path d="M335.3,579.3 L401.5,617.2" class="" style="fill:none;stroke:#000;stroke-width:1.84;stroke-linecap:round;stroke-linejoin:round"/>
<path d="M330.5,578.9 L398.8,618.5 L402.8,621.6 L412.3,619.5 L416.1,615.1" class="" style="fill:none;stroke:#000;stroke-width:3.22;stroke-linecap:round;stroke-linejoin:round"/>
<path d="M401.5,617.2 L408.2,614.1" class="" style="fill:none;stroke:#000;stroke-width:1.84;stroke-linecap:round;stroke-linejoin:round"/>
<path d="M414.3,586.8 L409.6,611.1" class="" style="fill:none;stroke:#000;stroke-width:2.76;stroke-linecap:round;stroke-linejoin:round"/>
<path d="M418.4,584.1 L413.0,614.1" class="" style="fill:none;stroke:#000;stroke-width:1.84;stroke-linecap:round;stroke-linejoin:round"/>
<path d="M423.4,570.5 L416.4,615.4" class="" style="fill:none;stroke:#000;stroke-width:2.99;stroke-linecap:round;stroke-linejoin:round"/>
<path d="M415.0,542.8 L415.9,543.6 L417.3,544.7 L418.8,546.0 L420.4,547.5 L421.9,548.9 L423.1,550.3 L424.0,551.5 L424.9,552.8 L425.6,554.0 L426.1,555.4 L426.5,556.8 L426.6,558.4 L426.4,560.3 L425.9,562.6 L425.2,565.0 L424.5,567.2 L423.8,569.2 L423.4,570.5" class="" style="fill:none;stroke:#000;stroke-width:2.99;stroke-linecap:round;stroke-linejoin:round"/>
<path d="M409.6,539.5 L410.7,540.8 L412.3,542.6 L414.2,544.8 L416.1,547.1 L417.8,549.5 L419.1,551.6 L420.0,553.7 L420.7,555.7 L421.2,557.8 L421.5,559.8 L421.7,561.8 L421.8,563.8 L421.6,565.8 L421.2,567.9 L420.6,569.9 L420.0,571.8 L419.4,573.4 L419.1,574.6" class="" style="fill:none;stroke:#000;stroke-width:2.53;stroke-linecap:round;stroke-linejoin:round"/>
<path d="M405.8,577.3 L405.9,576.7 L405.9,575.7 L406.0,574.7 L406.2,573.6 L406.4,572.6 L406.9,571.9 L407.5,571.4 L408.4,570.9 L409.3,570.6 L410.3,570.4 L411.3,570.4 L412.3,570.5 L413.3,570.9 L414.3,571.4 L415.3,572.1 L416.3,572.8 L417.1,573.7 L417.7,574.6 L418.1,575.6 L418.5,576.7 L418.6,577.9 L418.7,579.1 L418.6,580.3 L418.4,581.4 L418.0,582.4 L417.4,583.6 L416.7,584.6 L415.9,585.6 L415.1,586.3 L414.3,586.8 L413.6,586.8 L412.8,586.6 L411.9,586.2 L411.1,585.6 L410.3,584.8 L409.6,584.1 L408.9,583.1 L408.1,581.9 L407.4,580.5 L406.8,579.2 L406.2,578.1 L405.8,577.3" class="" style="fill:#fff;stroke:#000;stroke-width:2.53;stroke-linecap:round;stroke-linejoin:round"/>
<ellipse transform="translate(411.6,577.6) rotate(-29.5)" rx="3.2" ry="4.8" class="" style="fill:#000;stroke:none" />
<g transform="translate(373.5,464.4) rotate(-27) scale(0.95)"><rect x="-16" y="-3.1" width="13" height="6.2" rx="1.5" fill="#fff" stroke="#000" stroke-width="2.1"/><rect x="-17" y="-3.4" width="3.6" height="6.8" rx="1.2" fill="#000"/><rect x="-6.5" y="-5.4" width="13.5" height="10.8" rx="4.2" fill="#000" stroke="#000" stroke-width="1"/><ellipse cx="3.2" cy="2.4" rx="1.7" ry="1.9" fill="#fff"/></g>
<g transform="translate(424.5,516.0) rotate(-27) scale(0.95)"><rect x="-16" y="-3.1" width="13" height="6.2" rx="1.5" fill="#fff" stroke="#000" stroke-width="2.1"/><rect x="-17" y="-3.4" width="3.6" height="6.8" rx="1.2" fill="#000"/><rect x="-6.5" y="-5.4" width="13.5" height="10.8" rx="4.2" fill="#000" stroke="#000" stroke-width="1"/><ellipse cx="3.2" cy="2.4" rx="1.7" ry="1.9" fill="#fff"/></g>
<g transform="translate(457.5,552.0) rotate(-28) scale(0.98)"><rect x="-17" y="-3.1" width="14" height="6.2" rx="1.5" fill="#fff" stroke="#000" stroke-width="2.1"/><rect x="-18" y="-3.4" width="3.6" height="6.8" rx="1.2" fill="#000"/><rect x="-6.5" y="-5.4" width="13.5" height="10.8" rx="4.2" fill="#000" stroke="#000" stroke-width="1"/><ellipse cx="3.2" cy="2.4" rx="1.7" ry="1.9" fill="#fff"/></g>
<g transform="translate(289.5,562.6) rotate(-26) scale(1.0)"><rect x="-23" y="-3.1" width="20" height="6.2" rx="1.5" fill="#fff" stroke="#000" stroke-width="2.1"/><rect x="-24" y="-3.4" width="3.6" height="6.8" rx="1.2" fill="#000"/><rect x="-6.5" y="-5.4" width="13.5" height="10.8" rx="4.2" fill="#000" stroke="#000" stroke-width="1"/><ellipse cx="3.2" cy="2.4" rx="1.7" ry="1.9" fill="#fff"/></g>
<g transform="translate(335.5,607.6) rotate(-27) scale(1.0)"><rect x="-23" y="-3.1" width="20" height="6.2" rx="1.5" fill="#fff" stroke="#000" stroke-width="2.1"/><rect x="-24" y="-3.4" width="3.6" height="6.8" rx="1.2" fill="#000"/><rect x="-6.5" y="-5.4" width="13.5" height="10.8" rx="4.2" fill="#000" stroke="#000" stroke-width="1"/><ellipse cx="3.2" cy="2.4" rx="1.7" ry="1.9" fill="#fff"/></g>
<line x1="342.8" y1="482.2" x2="357.5" y2="473.9" class="ln" style=""/>
<line x1="414.7" y1="574.9" x2="437.5" y2="563.0" class="ln" style=""/>
<line x1="449.7" y1="563.5" x2="446.6" y2="593" class="ln" style=""/>
<line x1="257.9" y1="581.1" x2="268" y2="575.6" class="ln" style=""/>
<line x1="303" y1="626.5" x2="314" y2="621" class="ln" style=""/>
<line x1="347.3" y1="614.6" x2="340.7" y2="608.9" class="ln" style=""/>
<line x1="412.0" y1="512.0" x2="418.0" y2="517.6" class="ln" style=""/>
<line x1="274.9" y1="609.5" x2="327.9" y2="579.2" class="ln" style="stroke-dasharray:24 4 6 4;stroke-width:1.4"/>
<line x1="369.5" y1="661.6" x2="316.5" y2="641.7" class="ln" style=""/>
<circle cx="338.3" cy="480.8" r="4.0" fill="#000"/>
<circle cx="367.8" cy="462.0" r="3.0" fill="#000"/>
<circle cx="287.2" cy="557.0" r="3.0" fill="#000"/>
<path d="M232.0,497.3 L245.5,510.5 L246.1,519.1 L241.8,521.3 L227.2,508.3 Z" class="" style="fill:#fff;stroke:#000;stroke-width:2.76;stroke-linecap:round;stroke-linejoin:round"/>
<path d="M229.0,502.9 L242.3,515.1" class="" style="fill:none;stroke:#000;stroke-width:2.07;stroke-linecap:round;stroke-linejoin:round"/>
<path d="M232.6,517.3 L240.7,514.4 L246.3,512.4 L246.7,520.2 L240.9,523.5 L232.9,523.5 L231.5,520.5 Z" class="" style="fill:#000;stroke:none"/>
<path d="M236.6,519.8 L239.4,518.4 L240.2,520.2 L237.4,521.7 Z" class="" style="fill:#fff;stroke:none"/>
<path d="M241.5,516.8 L243.1,516.1 L243.5,518.1 L242.0,518.7 Z" class="" style="fill:#fff;stroke:none"/>
<path d="M225.5,491.4 L217.1,494.1 L213.2,504.3 L215.8,509.8 L221.2,511.6 L226.4,508.8 L232.2,497.1 Z" class="" style="fill:#fff;stroke:#000;stroke-width:2.99;stroke-linecap:round;stroke-linejoin:round"/>
<path d="M221.2,511.6 L228.2,500.0" class="" style="fill:none;stroke:#000;stroke-width:2.53;stroke-linecap:round;stroke-linejoin:round"/>
<path d="M219.1,495.1 L215.8,507.0" class="" style="fill:none;stroke:#000;stroke-width:1.38;stroke-linecap:round;stroke-linejoin:round"/>
<path d="M232.0,525.9 L233.8,554.6 L250.4,553.7 L250.4,526.5 Z" class="" style="fill:#fff;stroke:#000;stroke-width:2.99;stroke-linecap:round;stroke-linejoin:round"/>
<ellipse cx="241.2" cy="527.4" rx="9.2" ry="4.6" fill="#fff" stroke="#000" stroke-width="2.4"/>
<path d="M236.1,529.9 L247.4,525.2" class="" style="fill:none;stroke:#000;stroke-width:2.99;stroke-linecap:round;stroke-linejoin:round"/>
<path d="M234.0,541.6 L234.8,542.1 L236.0,542.8 L237.3,543.5 L238.8,544.3 L240.3,544.8 L241.8,545.1 L243.2,544.9 L244.9,544.5 L246.6,543.8 L248.1,543.2 L249.5,542.6 L250.4,542.2" class="" style="fill:none;stroke:#000;stroke-width:2.53;stroke-linecap:round;stroke-linejoin:round"/>
<path d="M234.0,546.4 L250.4,545.5" class="" style="fill:none;stroke:#000;stroke-width:2.53;stroke-linecap:round;stroke-linejoin:round"/>
<path d="M242.1,554.6 L242.1,566.5" class="" style="fill:none;stroke:#000;stroke-width:1.84;stroke-linecap:round;stroke-linejoin:round"/>
<circle cx="221.2" cy="494.6" r="4.4" fill="#000"/>
<path d="M232.2,583.9 L240.3,580.9 L247.7,585.3 L247.7,597.4 L240.3,599.5 L232.2,593.6 Z" class="" style="fill:#fff;stroke:#000;stroke-width:2.76;stroke-linecap:round;stroke-linejoin:round"/>
<path d="M232.2,583.9 L240.3,588.0 L247.7,585.3" class="" style="fill:none;stroke:#000;stroke-width:2.3;stroke-linecap:round;stroke-linejoin:round"/>
<path d="M240.3,588.0 L240.3,599.5" class="" style="fill:none;stroke:#000;stroke-width:2.3;stroke-linecap:round;stroke-linejoin:round"/>
<path d="M234.9,585.3 L241.6,582.3" class="" style="fill:none;stroke:#000;stroke-width:1.61;stroke-linecap:round;stroke-linejoin:round"/>
<path d="M236.2,569.7 L241.6,568.4 L247.7,570.1 L248.1,580.1 L242.3,581.9 L236.5,579.9 Z" class="" style="fill:#000;stroke:none"/>
<path d="M238.2,574.5 L245.7,574.2" class="" style="fill:none;stroke:#aaa;stroke-width:1.49;stroke-linecap:round;stroke-linejoin:round"/>
<path d="M238.2,576.9 L245.7,576.6" class="" style="fill:none;stroke:#aaa;stroke-width:1.49;stroke-linecap:round;stroke-linejoin:round"/>
<path d="M238.9,579.2 L245.0,578.9" class="" style="fill:none;stroke:#aaa;stroke-width:1.15;stroke-linecap:round;stroke-linejoin:round"/>
<path d="M232.2,605.5 L238.9,601.8 L242.3,604.5 L242.3,617.0 L251.1,625.1 L245.0,627.2 L232.2,614.3 Z" class="" style="fill:#fff;stroke:#000;stroke-width:2.53;stroke-linecap:round;stroke-linejoin:round"/>
<path d="M232.2,605.5 L236.2,608.5 L242.3,604.5" class="" style="fill:none;stroke:#000;stroke-width:2.07;stroke-linecap:round;stroke-linejoin:round"/>
<path d="M236.2,608.5 L236.2,618.4" class="" style="fill:none;stroke:#000;stroke-width:2.07;stroke-linecap:round;stroke-linejoin:round"/>
<path d="M222.0,617.4 L226.1,612.6 L238.9,608.5 L240.3,613.9 L228.4,624.5 L223.4,623.4 Z" class="" style="fill:#fff;stroke:#000;stroke-width:2.76;stroke-linecap:round;stroke-linejoin:round"/>
<ellipse transform="translate(225.1,619.3) rotate(-30)" rx="2.8" ry="4.6" fill="#000"/>
<path d="M226.1,612.6 L228.4,624.5" class="" style="fill:none;stroke:#000;stroke-width:1.61;stroke-linecap:round;stroke-linejoin:round"/>
<path d="M249.1,577.8 L253.1,576.9 L256.8,578.0 L260.5,586.6 L265.3,594.1 L265.4,605.5 L262.2,609.9 L254.5,592.7 L248.6,583.2 Z" class="" style="fill:#fff;stroke:#000;stroke-width:2.99;stroke-linecap:round;stroke-linejoin:round"/>
<path d="M251.8,583.9 L259.2,601.5 L263.0,608.0" class="" style="fill:none;stroke:#000;stroke-width:1.61;stroke-linecap:round;stroke-linejoin:round"/>
<path d="M243.6,582.6 L249.1,598.8 L255.4,621.8" class="" style="fill:none;stroke:#000;stroke-width:2.99;stroke-linecap:round;stroke-linejoin:round"/>
<path d="M247.0,583.9 L252.4,600.1 L259.2,619.1" class="" style="fill:none;stroke:#000;stroke-width:2.53;stroke-linecap:round;stroke-linejoin:round"/>
<path d="M248.6,592.0 L252.2,591.8" class="" style="fill:none;stroke:#000;stroke-width:2.3;stroke-linecap:round;stroke-linejoin:round"/>
<path d="M241.6,597.4 L249.1,619.1 L253.8,628.5" class="" style="fill:none;stroke:#000;stroke-width:2.3;stroke-linecap:round;stroke-linejoin:round"/>
<path d="M247.7,623.1 L248.1,623.8 L248.6,624.8 L249.2,626.0 L249.9,627.3 L250.8,628.6 L251.8,629.9 L252.9,631.1 L254.3,632.4 L255.7,633.6 L257.3,635.0 L258.9,636.4 L260.5,638.0 L262.2,639.7 L264.0,641.8 L265.9,643.9 L267.8,645.9 L269.6,647.7 L271.4,649.1 L273.0,650.1 L274.5,650.8 L276.0,651.4 L277.5,651.7 L279.1,651.8 L280.8,651.8 L282.9,651.4 L285.3,650.8 L287.8,649.9 L290.2,649.0 L292.2,648.2 L293.6,647.7" class="" style="fill:none;stroke:#000;stroke-width:2.99;stroke-linecap:round;stroke-linejoin:round"/>
<path d="M249.1,628.5 L249.7,628.9 L250.5,629.3 L251.5,629.9 L252.6,630.6 L253.9,631.5 L255.1,632.6 L256.5,634.0 L258.0,635.8 L259.7,637.8 L261.3,639.8 L263.0,641.7 L264.6,643.4 L266.3,644.8 L268.1,646.3 L269.9,647.6 L271.6,648.7 L273.0,649.7 L274.1,650.4" class="" style="fill:none;stroke:#000;stroke-width:2.3;stroke-linecap:round;stroke-linejoin:round"/>
<path d="M260.5,609.3 L274.1,609.6 L290.9,618.0 L288.2,627.4 L283.8,640.9 L274.3,649.1 L264.9,640.9 L255.4,628.8 L251.4,621.8 L255.4,616.4 Z" class="" style="fill:#000;stroke:none"/>
<path d="M251.4,621.8 L260.5,609.3 L264.6,621.8 L257.8,628.5 Z" class="" style="fill:#000;stroke:none"/>
<path d="M264.6,628.5 L273.4,640.7" class="" style="fill:none;stroke:#fff;stroke-width:1.38;stroke-linecap:round;stroke-linejoin:round"/>
<path d="M260.5,629.9 L270.0,643.4" class="" style="fill:none;stroke:#fff;stroke-width:1.15;stroke-linecap:round;stroke-linejoin:round"/>
<path d="M253.8,623.1 L260.5,619.1" class="" style="fill:none;stroke:#fff;stroke-width:1.15;stroke-linecap:round;stroke-linejoin:round"/>
<path d="M285.1,624.7 L290.5,623.1 L291.9,629.9 L286.5,632.8 Z" class="" style="fill:#fff;stroke:none"/>
<path d="M286.9,625.8 L287.3,626.0 L287.9,626.1 L288.6,626.4 L289.3,626.7 L289.9,627.0 L290.3,627.4 L290.4,628.0 L290.3,628.8 L290.1,629.6 L289.9,630.3 L289.7,631.0 L289.6,631.5" class="" style="fill:none;stroke:#000;stroke-width:1.84;stroke-linecap:round;stroke-linejoin:round"/>
<path d="M283.5,635.3 L293.0,632.6 L295.0,640.7 L284.9,643.4 Z" class="" style="fill:#fff;stroke:none"/>
<path d="M283.5,640.7 L293.6,636.6" class="" style="fill:none;stroke:#000;stroke-width:2.07;stroke-linecap:round;stroke-linejoin:round"/>
<path d="M283.5,635.3 L293.6,646.1" class="" style="fill:none;stroke:#000;stroke-width:2.3;stroke-linecap:round;stroke-linejoin:round"/>
<path d="M295.0,618.0 L295.1,617.7 L295.2,617.2 L295.4,616.7 L295.6,616.1 L295.9,615.6 L296.4,615.3 L296.9,615.0 L297.7,614.8 L298.5,614.6 L299.4,614.5 L300.3,614.4 L301.1,614.5 L301.9,614.6 L302.8,614.9 L303.7,615.2 L304.5,615.6 L305.2,616.0 L305.8,616.4 L306.2,616.8 L306.4,617.3 L306.6,617.8 L306.7,618.3 L306.7,618.8 L306.8,619.1 L306.8,640.7 L295.1,640.7 Z" class="" style="fill:#fff;stroke:#000;stroke-width:2.76;stroke-linecap:round;stroke-linejoin:round"/>
<path d="M295.1,619.1 L295.8,619.4 L296.7,619.9 L297.8,620.4 L298.9,620.9 L300.0,621.3 L301.1,621.5 L302.1,621.3 L303.2,620.9 L304.3,620.4 L305.3,619.9 L306.1,619.4 L306.8,619.1" class="" style="fill:none;stroke:#000;stroke-width:2.07;stroke-linecap:round;stroke-linejoin:round"/>
<path d="M295.7,625.8 L304.1,624.5 L314.9,630.1 L318.9,638.2 L314.9,646.4 L306.8,647.7 L295.9,645.0 Z" class="" style="fill:#000;stroke:none"/>
<path d="M297.7,628.5 L302.7,627.4 L303.1,633.2 L298.1,634.2 Z" class="" style="fill:#fff;stroke:none"/>
<path d="M306.5,632.6 L311.9,633.9 L313.2,639.3 L307.8,638.6 Z" class="" style="fill:#fff;stroke:none"/>
<path d="M298.4,638.0 L301.1,637.3 L301.6,642.7 L298.9,643.4 Z" class="" style="fill:#fff;stroke:none"/>
<circle cx="310.3" cy="629.2" r="2.0" fill="#000"/>
<circle cx="314.6" cy="635.9" r="2.2" fill="#000"/>
<circle cx="299.1" cy="635.9" r="1.8" fill="#000"/>
<path d="M293.0,648.1 L299.7,646.8 L306.8,648.1 L308.1,658.2 L301.1,659.6 L293.6,658.2 Z" class="" style="fill:#000;stroke:none"/>
<path d="M297.2,658.9 L297.2,670.1 L300.5,671.5 L303.9,670.1 L303.9,658.9" class="" style="fill:#fff;stroke:#000;stroke-width:2.3;stroke-linecap:round;stroke-linejoin:round"/>
<path d="M245.0,626.8 L249.1,624.5" class="" style="fill:none;stroke:#000;stroke-width:1.61;stroke-linecap:round;stroke-linejoin:round"/>
<path d="M290.2,696 L290.2,717.5 A10.6,4.6 0 0 0 311.4,717.5 L311.4,696 Z" fill="#fff" stroke="#000" stroke-width="2"/>
<ellipse cx="300.8" cy="696" rx="10.6" ry="5" fill="#fff" stroke="#000" stroke-width="2"/>
<ellipse cx="300.8" cy="696.2" rx="4" ry="1.9" fill="#000"/>
<line x1="300.6" y1="671.5" x2="300.6" y2="695.5" class="ln" style=""/>
<ellipse transform="translate(206.5,631.3) rotate(-29.5)" rx="4.8" ry="9.4" class="" style="fill:#fff;stroke:#000;stroke-width:2.2" />
<path d="M201.1,645.2 L211.1,639.5 L201.9,623.1 L191.9,628.8 Z" class="" style="fill:#fff;stroke:none"/>
<line x1="201.1" y1="645.2" x2="211.1" y2="639.5" class="" style="stroke:#000;stroke-width:2.2"/>
<line x1="191.9" y1="628.8" x2="201.9" y2="623.1" class="" style="stroke:#000;stroke-width:2.2"/>
<ellipse transform="translate(196.5,637.0) rotate(-29.5)" rx="4.8" ry="9.4" class="" style="fill:#fff;stroke:#000;stroke-width:2.2" />
<path d="M193.3,624.3 L197.7,621.9 L204.4,627.2 L197.7,629.5 Z" class="" style="fill:#000;stroke:#000;stroke-width:2.76;stroke-linecap:round;stroke-linejoin:round"/>
<path d="M197.0,627.5 L201.4,625.2 L202.2,626.2 L198.1,628.6 Z" class="" style="fill:#fff;stroke:none"/>
<ellipse transform="translate(195.5,637.1) rotate(-29.5)" rx="7.4" ry="15.2" class="" style="fill:#fff;stroke:#000;stroke-width:2.0" />
<path d="M199.8,652.1 L203.0,650.3 L188.0,623.9 L184.8,625.7 Z" class="" style="fill:#fff;stroke:none"/>
<line x1="199.8" y1="652.1" x2="203.0" y2="650.3" class="" style="stroke:#000;stroke-width:2.0"/>
<line x1="184.8" y1="625.7" x2="188.0" y2="623.9" class="" style="stroke:#000;stroke-width:2.0"/>
<ellipse transform="translate(192.3,638.9) rotate(-29.5)" rx="7.4" ry="15.2" class="" style="fill:#fff;stroke:#000;stroke-width:2.0" />
<ellipse transform="translate(191.4,639.6) rotate(-29.5)" rx="5.8" ry="12.6" class="" style="fill:none;stroke:#000;stroke-width:3.0" />
<ellipse transform="translate(188.6,640.8) rotate(-29.5)" rx="5.4" ry="11.6" class="" style="fill:#fff;stroke:#000;stroke-width:1.4" />
<ellipse transform="translate(185.0,642.7) rotate(-29.5)" rx="5.4" ry="11.2" class="" style="fill:#fff;stroke:#000;stroke-width:2.2" />
<path d="M187.1,654.3 L190.5,652.4 L179.5,633.0 L176.1,634.9 Z" class="" style="fill:#fff;stroke:none"/>
<line x1="187.1" y1="654.3" x2="190.5" y2="652.4" class="" style="stroke:#000;stroke-width:2.2"/>
<line x1="176.1" y1="634.9" x2="179.5" y2="633.0" class="" style="stroke:#000;stroke-width:2.2"/>
<ellipse transform="translate(181.6,644.6) rotate(-29.5)" rx="5.4" ry="11.2" class="" style="fill:#fff;stroke:#000;stroke-width:2.2" />
<path d="M104.0,614.2 L94.3,619.4 Q83.0,624.9 90.3,629.2 L138.9,658.9 Q146.2,663.7 154.3,659.7 L182.5,645.6" class="" style="fill:none;stroke:#000;stroke-width:10.6;stroke-linejoin:round"/>
<path d="M104.0,614.2 L94.3,619.4 Q83.0,624.9 90.3,629.2 L138.9,658.9 Q146.2,663.7 154.3,659.7 L182.5,645.6" class="" style="fill:none;stroke:#fff;stroke-width:5.8;stroke-linejoin:round"/>
<path d="M140.0,656.9 L139.8,657.4 L139.5,658.1 L139.2,658.9 L138.9,659.7 L138.7,660.6 L138.7,661.3 L139.0,662.0 L139.4,662.7 L139.9,663.5 L140.5,664.1 L141.0,664.6 L141.3,665.0" class="" style="fill:none;stroke:#000;stroke-width:1.84;stroke-linecap:round;stroke-linejoin:round"/>
<path d="M157.2,655.6 L157.5,656.1 L157.9,656.7 L158.4,657.4 L158.8,658.1 L159.2,658.9 L159.5,659.7 L159.6,660.5 L159.6,661.4 L159.5,662.3 L159.3,663.2 L159.2,663.9 L159.2,664.4" class="" style="fill:none;stroke:#000;stroke-width:1.84;stroke-linecap:round;stroke-linejoin:round"/>
<path d="M95.6,625.5 L94.9,625.6 L94.0,625.7 L92.9,625.9 L91.7,626.2 L90.6,626.6 L89.8,627.1 L89.1,627.9 L88.5,629.1 L88.0,630.3 L87.5,631.5 L87.1,632.5 L86.9,633.3" class="" style="fill:none;stroke:#000;stroke-width:1.84;stroke-linecap:round;stroke-linejoin:round"/>
<ellipse transform="translate(108.6,611.9) rotate(-29.5)" rx="4.0" ry="8.0" class="" style="fill:#fff;stroke:#000;stroke-width:2.2" />
<path d="M100.9,625.6 L112.5,618.9 L104.7,604.9 L93.1,611.6 Z" class="" style="fill:#fff;stroke:none"/>
<line x1="100.9" y1="625.6" x2="112.5" y2="618.9" class="" style="stroke:#000;stroke-width:2.2"/>
<line x1="93.1" y1="611.6" x2="104.7" y2="604.9" class="" style="stroke:#000;stroke-width:2.2"/>
<ellipse transform="translate(97.0,618.6) rotate(-29.5)" rx="4.0" ry="8.0" class="" style="fill:#fff;stroke:#000;stroke-width:2.2" />
<ellipse transform="translate(99.4,617.2) rotate(-29.5)" rx="4.0" ry="8.0" class="" style="fill:none;stroke:#000;stroke-width:1.3" />
<ellipse transform="translate(101.6,615.9) rotate(-29.5)" rx="4.0" ry="8.0" class="" style="fill:none;stroke:#000;stroke-width:1.3" />
<path d="M116.1,601.6 L117.9,598.6 L122.2,596.7 L123.1,592.5 L130.7,587.0 L136.7,585.5 L142.8,581.6 L146.5,577.9 L155.0,575.8 L160.5,577.9 L162.9,583.4 L162.3,588.8 L158.6,593.7 L155.0,594.9 L144.0,599.8 L141.6,604.0 L133.1,607.1 L127.0,608.9 L122.2,610.4 L117.9,607.7 Z" class="" style="fill:#000;stroke:#000;stroke-width:1.84;stroke-linecap:round;stroke-linejoin:round"/>
<path d="M150.7,579.1 L155.6,584.0 L157.1,590.1 L142.8,598.3 L138.3,590.4" class="" style="fill:none;stroke:#fff;stroke-width:1.15;stroke-linecap:round;stroke-linejoin:round"/>
<path d="M156.2,579.1 L156.6,579.7 L157.3,580.4 L158.0,581.3 L158.7,582.2 L159.4,583.2 L159.8,584.0 L160.1,584.7 L160.3,585.5 L160.4,586.3 L160.4,586.9 L160.4,587.5 L160.5,587.9" class="" style="fill:none;stroke:#fff;stroke-width:1.15;stroke-linecap:round;stroke-linejoin:round"/>
<path d="M142.2,588.8 L145.6,587.3" class="" style="fill:none;stroke:#fff;stroke-width:1.61;stroke-linecap:round;stroke-linejoin:round"/>
<path d="M135.5,598.7 L137.5,598.0 L136.9,601.1 L135.8,600.7 Z" class="" style="fill:#fff;stroke:none"/>
<path d="M121.6,599.8 L122.0,600.1 L122.6,600.6 L123.4,601.1 L124.1,601.7 L124.7,602.2 L125.2,602.8 L125.4,603.4 L125.6,604.1 L125.6,604.8 L125.5,605.5 L125.5,606.1 L125.5,606.5" class="" style="fill:none;stroke:#fff;stroke-width:1.38;stroke-linecap:round;stroke-linejoin:round"/>
<path d="M126.4,597.4 L126.7,597.7 L127.2,598.1 L127.8,598.6 L128.3,599.1 L128.8,599.6 L129.1,600.1 L129.4,600.6 L129.5,601.1 L129.5,601.6 L129.5,602.1 L129.6,602.5 L129.6,602.8" class="" style="fill:none;stroke:#fff;stroke-width:1.61;stroke-linecap:round;stroke-linejoin:round"/>
<ellipse transform="translate(120.6,604.8) rotate(-30)" rx="0.9" ry="1.4" fill="#fff"/>
<line x1="197" y1="437.5" x2="220.6" y2="493.5" class="ln" style=""/>
<line x1="237.5" y1="412.7" x2="290" y2="558" class="ln" style=""/>
<line x1="283.9" y1="387.4" x2="338.5" y2="480.5" class="ln" style=""/>
<line x1="325.5" y1="363.4" x2="367" y2="462" class="ln" style=""/>
<line x1="443.8" y1="398" x2="478.4" y2="454.8" class="ln" style=""/>
<line x1="707.4" y1="151.7" x2="759.7" y2="215" class="ln" style=""/>
<line x1="871" y1="127.4" x2="847.2" y2="183.3" class="ln" style=""/>
<line x1="988.9" y1="300.5" x2="930" y2="252" class="ln" style=""/>
<line x1="118.6" y1="566.2" x2="131.2" y2="586.6" class="ln" style=""/>
<line x1="221.2" y1="673.5" x2="201" y2="652.4" class="ln" style=""/>
<line x1="325.9" y1="691.3" x2="309.7" y2="693.6" class="ln" style=""/>
<circle cx="881.3" cy="104.3" r="24.0" class="b"/>
<text transform="translate(881.3,115.8) scale(0.68,1)" class="n" style="font-size:34px">63</text>
<circle cx="693.6" cy="131.8" r="24.0" class="b"/>
<text transform="translate(693.6,143.3) scale(0.68,1)" class="n" style="font-size:34px">63</text>
<circle cx="1008.9" cy="317.7" r="24.0" class="b" style="fill:none"/>
<text transform="translate(1008.9,329.2) scale(0.68,1)" class="n" style="font-size:34px">62</text>
<circle cx="964.2" cy="344.9" r="24.0" class="b" style="fill:none"/>
<text transform="translate(964.2,356.4) scale(0.68,1)" class="n" style="font-size:34px">63</text>
<circle cx="883.4" cy="389.5" r="24.0" class="b"/>
<text transform="translate(883.4,401.0) scale(0.68,1)" class="n" style="font-size:34px">61</text>
<circle cx="838.8" cy="410" r="24.0" class="b"/>
<text transform="translate(838.8,421.5) scale(0.68,1)" class="n" style="font-size:34px">59</text>
<circle cx="315.3" cy="339.9" r="24.0" class="b"/>
<text transform="translate(315.3,351.4) scale(0.68,1)" class="n" style="font-size:34px">45</text>
<circle cx="271.5" cy="365.1" r="24.0" class="b"/>
<text transform="translate(271.5,376.6) scale(0.68,1)" class="n" style="font-size:34px">44</text>
<circle cx="229.7" cy="389.7" r="24.0" class="b"/>
<text transform="translate(229.7,401.2) scale(0.68,1)" class="n" style="font-size:34px">43</text>
<circle cx="189" cy="414.6" r="24.0" class="b"/>
<text transform="translate(189,426.1) scale(0.68,1)" class="n" style="font-size:34px">42</text>
<circle cx="359.8" cy="315.0" r="24.0" class="b"/>
<text transform="translate(359.8,326.5) scale(0.68,1)" class="n" style="font-size:34px">60</text>
<rect x="372.90000000000003" y="349.1" width="80.8" height="47" rx="23.5" ry="23.5" class="b"/>
<text transform="translate(415.40000000000003,384.40000000000003) scale(0.68,1)" class="n" style="font-size:34px">166</text>
<circle cx="395.8" cy="494.5" r="24.0" class="b"/>
<text transform="translate(395.8,506.0) scale(0.68,1)" class="n" style="font-size:34px">45</text>
<circle cx="443.1" cy="617.5" r="24.0" class="b"/>
<text transform="translate(443.1,629.0) scale(0.68,1)" class="n" style="font-size:34px">45</text>
<circle cx="368.3" cy="629.6" r="24.0" class="b"/>
<text transform="translate(368.3,641.1) scale(0.68,1)" class="n" style="font-size:34px">43</text>
<circle cx="395.8" cy="674.3" r="24.0" class="b"/>
<text transform="translate(395.8,685.8) scale(0.68,1)" class="n" style="font-size:34px">40</text>
<circle cx="347.3" cy="688.2" r="24.0" class="b"/>
<text transform="translate(347.3,699.7) scale(0.68,1)" class="n" style="font-size:34px">41</text>
<circle cx="237.4" cy="693.3" r="24.0" class="b"/>
<text transform="translate(237.4,704.8) scale(0.68,1)" class="n" style="font-size:34px">8</text>
<circle cx="108.6" cy="544.4" r="24.0" class="b"/>
<text transform="translate(108.6,555.9) scale(0.68,1)" class="n" style="font-size:34px">9</text>
<rect x="572.7" y="473.0" width="82" height="48" rx="24.0" ry="24.0" class="b"/>
<text transform="translate(614.4000000000001,508.8) scale(0.68,1)" class="n" style="font-size:34px">167</text>
<rect x="671.9" y="447.9" width="82" height="47" rx="23.5" ry="23.5" class="b"/>
<text transform="translate(713.6,483.2) scale(0.68,1)" class="n" style="font-size:34px">168</text>
<rect x="807" y="543" width="190" height="154" class="ln" style="stroke-width:1.3"/>
<line x1="807" y1="589.5" x2="866" y2="589.5" class="ln" style="stroke-width:1.6"/>
<text transform="translate(836.8,579.2) scale(0.68,1)" class="n" style="font-size:34px">169</text>
<rect x="330.55" y="287.55" width="58.95" height="49.95" class="r"/>
<rect x="386.45" y="353.45" width="70.00" height="45.00" class="r"/>
<rect x="371.65" y="652.45" width="55.85" height="47.00" class="r"/>
<rect x="776.4" y="524.5" width="93.05" height="71.90" class="r"/>
<!--/BODY-->
</g></svg>
</body></html>
